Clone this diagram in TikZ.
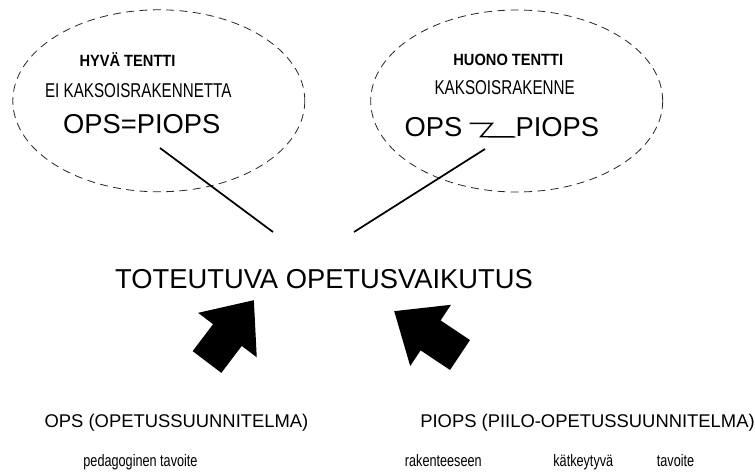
\documentclass[tikz,border=0pt]{standalone}
\usepackage{fontspec}
\setmainfont{Liberation Sans}
\newfontfamily\narrowfont[FakeStretch=0.76]{Liberation Sans}
\newfontfamily\narrowboldfont[FakeStretch=0.9]{Liberation Sans}
\usetikzlibrary{arrows.meta,shapes.geometric}
\newcommand\bigsize{\fontsize{20.5}{24}\selectfont}
\newcommand\midsize{\fontsize{13.8}{16}\selectfont}
\newcommand\smallnarrow{\narrowfont\fontsize{12.5}{14}\selectfont}
\tikzset{
  bubble/.style={ellipse,draw=black!85,dash pattern=on 6pt off 4pt,line width=0.6pt,
    inner sep=0,minimum width=219pt,minimum height=136.5pt},
  txt/.style={inner sep=0,anchor=base},
  link/.style={line width=1.3pt},
  zline/.style={line width=1.1pt},
  blockarrow/.style={line width=27pt,-{Triangle[length=33pt,width=53pt]}}
}

\begin{document}
\begin{tikzpicture}[x=0.75pt,y=-0.75pt]
    \useasboundingbox (0,0) rectangle (755,474);

    % the two exams
    \node[bubble] (good) at (158.8,100.8) {};
    \node[bubble] (bad) at (516.7,101) {};

    \node[txt] (hyva) at (127.5,66.7) {\narrowboldfont\bfseries\fontsize{12.2}{14}\selectfont HYVÄ TENTTI};
    \node[txt] (eikaks) at (138.3,97.7) {\narrowfont\fontsize{15}{17}\selectfont EI KAKSOISRAKENNETTA};
    \node[txt] (opseq) at (141.7,133.3) {\bigsize OPS=PIOPS};

    \node[txt] (huono) at (508.3,65.7) {\narrowboldfont\bfseries\fontsize{12.2}{14}\selectfont HUONO TENTTI};
    \node[txt] (kaks) at (504.7,95) {\narrowfont\fontsize{15}{17}\selectfont KAKSOISRAKENNE};
    \node[txt] (opsR) at (433.5,137) {\bigsize OPS};
    \node[txt] (piopsR) at (557.3,137) {\bigsize PIOPS};
    \draw[zline] (opsR.base east) ++(7,-13.7) -- ++(22.7,0) -- ++(-11.7,13.4) -- (piopsR.base west);

    % result in the middle
    \node[txt] (main) at (324,288.3) {\bigsize TOTEUTUVA OPETUSVAIKUTUS};
    \coordinate (goodTail) at (160,148);
    \coordinate (badTail) at (485,149);
    \coordinate (mainL) at (273,232);
    \coordinate (mainR) at (354,232);
    \draw[link] (goodTail) -- (mainL);
    \draw[link] (badTail) -- (mainR);

    % the two curricula
    \node[txt] (opsLbl) at (176.5,427.3) {\midsize OPS (OPETUSSUUNNITELMA)};
    \node[txt] (piopsLbl) at (587.5,427.3) {\midsize PIOPS (PIILO-OPETUSSUUNNITELMA)};
    \node[txt] (ped) at (140.5,466.7) {\smallnarrow pedagoginen tavoite};
    \node[txt] (rak) at (443.3,466.7) {\smallnarrow rakenteeseen};
    \node[txt] (katk) at (583.3,466.7) {\smallnarrow kätkeytyvä};
    \node[txt] (tav) at (675.5,466.7) {\smallnarrow tavoite};

    \coordinate (tailL) at (207,362);
    \coordinate (tipL) at (254,300);
    \coordinate (tailR) at (460,355);
    \coordinate (tipR) at (394,311);
    \draw[blockarrow] (tailL) -- (tipL);
    \draw[blockarrow] (tailR) -- (tipR);

  \end{tikzpicture}
\end{document}
